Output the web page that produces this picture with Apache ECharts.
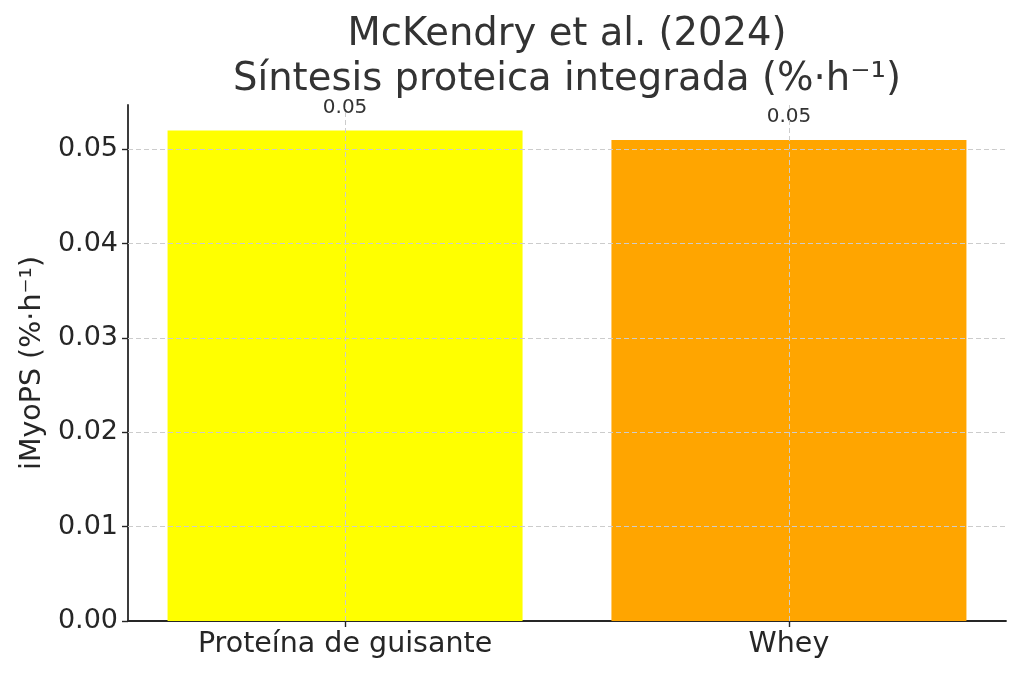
<!DOCTYPE html>
<html lang="es">
<head>
<meta charset="UTF-8">
<title>McKendry et al. (2024)</title>
<script src="https://cdn.jsdelivr.net/npm/echarts@6/dist/echarts.min.js"></script>
</head>
<body style="margin:0;">
<div id="main" style="width:1024px;height:677px;"></div>
<script type="text/javascript">
    // datos
    var categories = ['Proteína de guisante', 'Whey'];
    var values = [0.052, 0.051];
    var barColors = ['#ffff00', '#ffa500'];
    var yTicks = [0, 0.01, 0.02, 0.03, 0.04, 0.05];

    var font = 'DejaVu Sans';
    var gridStyle = {color: '#cccccc', type: [5, 3], width: 1};

    var barData = values.map(function (v, i) {
        return {value: [i, v], itemStyle: {color: barColors[i]}};
    });

    var gridLines = [];
    yTicks.slice(1).forEach(function (t) {
        gridLines.push({yAxis: t});
    });
    categories.forEach(function (c, i) {
        gridLines.push({xAxis: i});
    });

    var myChart = echarts.init(document.getElementById('main'));
    var option = {
        backgroundColor: '#fff',
        animation: false,
        title: {
            text: 'McKendry et al. (2024)\nSíntesis proteica integrada (%·h⁻¹)',
            left: 562,
            top: 7,
            textAlign: 'center',
            textStyle: {
                fontFamily: font,
                fontSize: 38.5,
                fontWeight: 'normal',
                color: '#333',
                lineHeight: 45
            }
        },
        grid: {left: 128, right: 18, top: 105, bottom: 56},
        xAxis: {
            type: 'value',
            min: -0.489,
            max: 1.489,
            splitLine: {show: false},
            axisLine: {onZero: false, lineStyle: {color: '#262626', width: 1.8}},
            axisTick: {
                show: true,
                customValues: [0, 1],
                length: 6,
                lineStyle: {color: '#262626', width: 1.4}
            },
            axisLabel: {
                customValues: [0, 1],
                margin: 9,
                fontFamily: font,
                fontSize: 28.5,
                color: '#262626',
                formatter: function (v) {
                    return categories[Math.round(v)];
                }
            }
        },
        yAxis: {
            type: 'value',
            min: 0,
            max: 0.0547,
            name: 'iMyoPS (%·h⁻¹)',
            nameLocation: 'middle',
            nameGap: 80,
            nameTextStyle: {fontFamily: font, fontSize: 28.5, color: '#262626'},
            splitLine: {show: false},
            axisLine: {show: true, onZero: false, lineStyle: {color: '#262626', width: 1.8}},
            axisTick: {
                show: true,
                customValues: yTicks,
                length: 6,
                lineStyle: {color: '#262626', width: 1.4}
            },
            axisLabel: {
                customValues: yTicks,
                margin: 10,
                fontFamily: font,
                fontSize: 27,
                color: '#262626',
                formatter: function (v) {
                    return v.toFixed(2);
                }
            }
        },
        series: [{
            type: 'bar',
            data: barData,
            barWidth: 355,
            label: {
                show: true,
                position: 'top',
                distance: 13,
                fontFamily: font,
                fontSize: 20,
                color: '#333',
                formatter: function (p) {
                    return p.value[1].toFixed(2);
                }
            },
            markLine: {
                silent: true,
                symbol: 'none',
                label: {show: false},
                lineStyle: gridStyle,
                data: gridLines
            }
        }]
    };
    myChart.setOption(option);
</script>
</body>
</html>
